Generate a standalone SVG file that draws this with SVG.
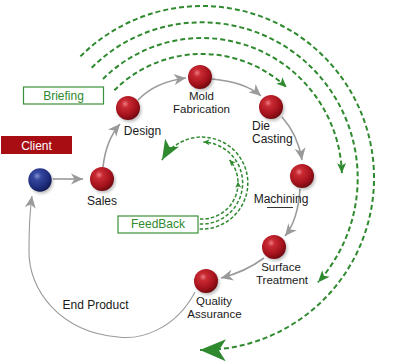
<svg xmlns="http://www.w3.org/2000/svg" width="396" height="363" viewBox="0 0 396 363">
<defs>
<style>
.lbl{font-family:"Liberation Sans",Arial,sans-serif;font-size:12px;fill:#1a1a1a}
.two{font-size:11.5px}
.box{fill:#fff;stroke:#3a923a;stroke-width:1.2}
.btxt{font-family:"Liberation Sans",Arial,sans-serif;font-size:12px;fill:#2f8a2f;text-anchor:middle}
.gray{fill:none;stroke:#9a9a9a;stroke-width:1.6;marker-end:url(#ag)}
.brief{fill:none;stroke:#2f8a2f;stroke-width:2;stroke-dasharray:5 3}
.fb{fill:none;stroke:#2f8a2f;stroke-width:1.5;stroke-dasharray:3.5 2}
.red{fill:url(#rg)}
.blue{fill:url(#bg)}
.sh{fill:#000;opacity:0.25;filter:url(#blur)}
</style>
<radialGradient id="rg" cx="0.38" cy="0.33" r="0.7">
<stop offset="0" stop-color="#ec7a82"/>
<stop offset="0.22" stop-color="#c92a33"/>
<stop offset="0.7" stop-color="#a3111b"/>
<stop offset="1" stop-color="#6c0a10"/>
</radialGradient>
<radialGradient id="bg" cx="0.38" cy="0.33" r="0.7">
<stop offset="0" stop-color="#8090d0"/>
<stop offset="0.25" stop-color="#34479e"/>
<stop offset="0.7" stop-color="#1f2d7e"/>
<stop offset="1" stop-color="#111a52"/>
</radialGradient>
<filter id="blur" x="-50%" y="-50%" width="200%" height="200%"><feGaussianBlur stdDeviation="1.5"/></filter>
<marker id="ag" markerUnits="userSpaceOnUse" markerWidth="14" markerHeight="12" refX="12" refY="5.5" orient="auto" overflow="visible"><path d="M0,0 L12,5.5 L0,11 L3.5,5.5 Z" fill="#9a9a9a"/></marker>
<marker id="gs" markerUnits="userSpaceOnUse" markerWidth="12" markerHeight="10" refX="10" refY="4.5" orient="auto" overflow="visible"><path d="M0,0 L10,4.5 L0,9 L2.5,4.5 Z" fill="#2f8a2f"/></marker>
<marker id="gm" markerUnits="userSpaceOnUse" markerWidth="14" markerHeight="12" refX="12" refY="5" orient="auto" overflow="visible"><path d="M0,0 L12,5 L0,10 L3,5 Z" fill="#2f8a2f"/></marker>
<marker id="gl" markerUnits="userSpaceOnUse" markerWidth="28" markerHeight="24" refX="26" refY="11" orient="auto" overflow="visible"><path d="M0,0 L26,11 L0,22 L7,11 Z" fill="#2f8a2f"/></marker>
<marker id="gf" markerUnits="userSpaceOnUse" markerWidth="22" markerHeight="18" refX="20" refY="8" orient="auto" overflow="visible"><path d="M0,0 L20,8 L0,16 L5,8 Z" fill="#2f8a2f"/></marker>
<marker id="gt" markerUnits="userSpaceOnUse" markerWidth="8" markerHeight="8" refX="6" refY="3" orient="auto" overflow="visible"><path d="M0,0 L6,3 L0,6 L1.5,3 Z" fill="#2f8a2f"/></marker>
</defs>
<rect width="396" height="363" fill="#fff"/>

<g id="connectors">
<!-- briefing arcs -->
<path class="brief" d="M114.3,90.3 A124,124 0 0 1 286.6,87.3" marker-end="url(#gs)"/>
<path class="brief" d="M103,79 A140,140 0 0 1 341.9,173.1" marker-end="url(#gs)"/>
<path class="brief" d="M91.7,67.7 A156,156 0 0 1 317.9,282.4" marker-end="url(#gm)"/>
<path class="brief" d="M80.4,56.4 A172,172 0 1 1 199.9,350" marker-end="url(#gl)"/>
<!-- feedback arcs -->
<path class="fb" d="M199.6,229 A46,46 0 1 0 162,160" marker-end="url(#gf)"/>
<path class="fb" d="M199.8,224 A41,41 0 1 0 203.4,142" marker-end="url(#gt)"/>
<path class="fb" d="M200,219 A36,36 0 0 0 238,181.7" marker-end="url(#gt)"/>
<path class="fb" d="M238,181.7 A36,36 0 0 0 229.6,159.9" marker-end="url(#gt)"/>
<!-- process arrows -->
<path class="gray" d="M53,179 L83,179"/>
<path class="gray" d="M103,167 Q106,140 120,124"/>
<path class="gray" d="M138,100 Q155,82 186,78"/>
<path class="gray" d="M212,79 Q245,82 261,96"/>
<path class="gray" d="M282,117 Q298,135 302,160"/>
<path class="gray" d="M300,189 Q298,220 285,236"/>
<path class="gray" d="M264,258 Q245,272 221,278"/>
<path class="gray" style="stroke-width:1.1" d="M195,292 C175,330 140,340 118,337 C60,332 28,290 29,250 C29,225 30,210 32,196"/>
</g>

<g id="client-box">
<rect x="1" y="136" width="71" height="18" fill="#a80d14"/>
<text x="36.5" y="149.5" class="lbl" style="fill:#fff;text-anchor:middle">Client</text>
</g>
<g id="briefing-box">
<rect class="box" x="23.5" y="87" width="80" height="17"/>
<text class="btxt" x="63.5" y="99.5">Briefing</text>
</g>
<g id="feedback-box">
<rect class="box" x="118" y="216" width="80" height="17"/>
<text class="btxt" x="158" y="228">FeedBack</text>
</g>

<g id="client">
<circle class="sh" cx="41.5" cy="182" r="11.5"/>
<circle class="blue" cx="40" cy="180" r="11.7"/>
</g>
<g id="sales">
<circle class="sh" cx="103.5" cy="181" r="12"/>
<circle class="red" cx="102" cy="179" r="12"/>
<text class="lbl" x="102" y="205" text-anchor="middle">Sales</text>
</g>
<g id="design">
<circle class="sh" cx="129.5" cy="110" r="12"/>
<circle class="red" cx="128" cy="108" r="12"/>
<text class="lbl" x="142.5" y="135" text-anchor="middle">Design</text>
</g>
<g id="mold">
<circle class="sh" cx="201.5" cy="79" r="12"/>
<circle class="red" cx="200" cy="77" r="12"/>
<text class="lbl two" x="201.5" y="100" text-anchor="middle">Mold</text>
<text class="lbl two" x="201.5" y="112.9" text-anchor="middle">Fabrication</text>
</g>
<g id="die">
<circle class="sh" cx="272.5" cy="109" r="12"/>
<circle class="red" cx="271" cy="107" r="12"/>
<text class="lbl" x="252" y="130">Die</text>
<text class="lbl" x="252" y="143">Casting</text>
</g>
<g id="machining">
<circle class="sh" cx="303.5" cy="178" r="12"/>
<circle class="red" cx="302" cy="176" r="12"/>
<text class="lbl" x="281" y="203" text-anchor="middle">Machining</text>
<line x1="267" y1="207.5" x2="293" y2="207.5" stroke="#333" stroke-width="1"/>
</g>
<g id="surface">
<circle class="sh" cx="275.5" cy="249" r="12"/>
<circle class="red" cx="274" cy="247" r="12"/>
<text class="lbl two" x="281" y="271" text-anchor="middle">Surface</text>
<text class="lbl two" x="282" y="283.9" text-anchor="middle">Treatment</text>
</g>
<g id="quality">
<circle class="sh" cx="207.5" cy="283" r="12"/>
<circle class="red" cx="206" cy="281" r="12"/>
<text class="lbl two" x="214" y="305" text-anchor="middle">Quality</text>
<text class="lbl two" x="214.5" y="317.9" text-anchor="middle">Assurance</text>
</g>
<g id="end-product">
<text class="lbl" x="95.5" y="309" text-anchor="middle">End Product</text>
</g>
</svg>
